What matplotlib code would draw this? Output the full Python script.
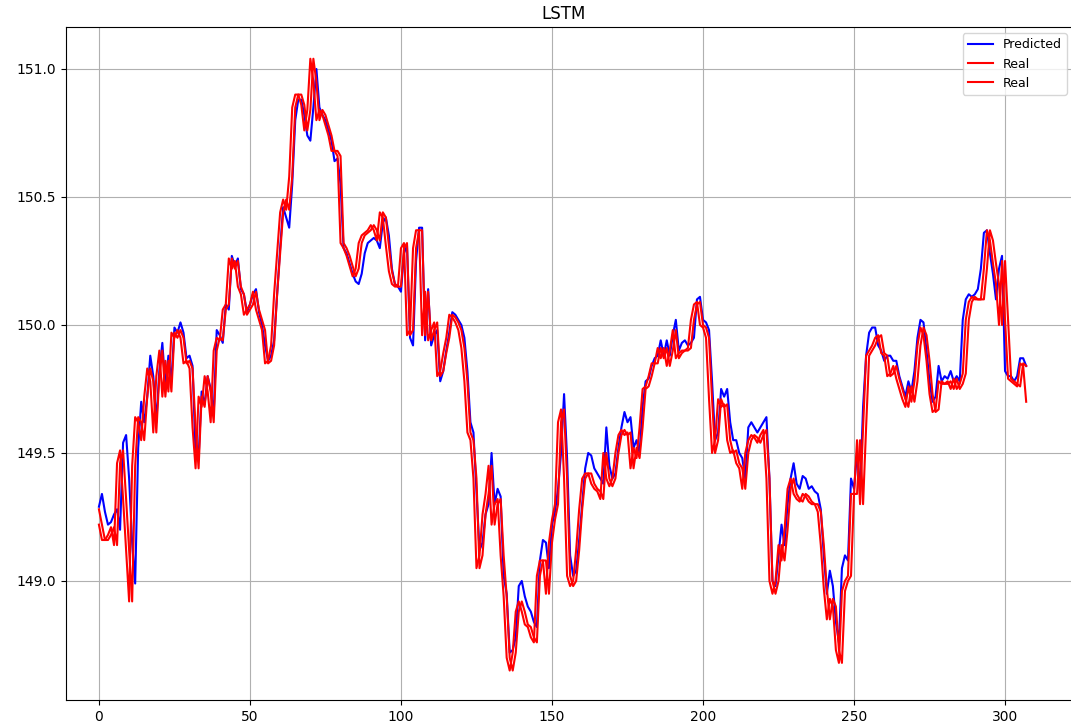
import matplotlib
matplotlib.use("Agg")
import matplotlib.pyplot as plt
import numpy as np

# real series: the two red lines are this series drawn one step apart
real = [
    149.28, 149.22, 149.16, 149.16, 149.18, 149.21, 149.14, 149.46, 149.51, 149.32,
    149.12, 148.92, 149.45, 149.64, 149.62, 149.55, 149.72, 149.83, 149.78, 149.58,
    149.80, 149.90, 149.72, 149.86, 149.74, 149.97, 149.95, 149.98, 149.95, 149.85,
    149.86, 149.83, 149.60, 149.44, 149.72, 149.68, 149.80, 149.74, 149.62, 149.90,
    149.95, 149.94, 150.06, 150.08, 150.26, 150.22, 150.25, 150.15, 150.12, 150.04,
    150.06, 150.08, 150.13, 150.06, 150.02, 149.98, 149.85, 149.86, 149.92, 150.12,
    150.28, 150.44, 150.49, 150.45, 150.58, 150.85, 150.90, 150.90, 150.86, 150.76,
    150.84, 151.04, 150.95, 150.80, 150.84, 150.82, 150.78, 150.74, 150.68, 150.68,
    150.66, 150.32, 150.30, 150.27, 150.23, 150.19, 150.22, 150.32, 150.35, 150.36,
    150.37, 150.39, 150.37, 150.33, 150.44, 150.42, 150.31, 150.21, 150.16, 150.15,
    150.15, 150.30, 150.32, 149.96, 149.98, 150.30, 150.37, 150.37, 149.96, 150.13,
    149.94, 149.98, 150.01, 149.80, 149.82, 149.89, 149.95, 150.04, 150.03, 150.01,
    149.98, 149.91, 149.78, 149.58, 149.55, 149.40, 149.05, 149.10, 149.26, 149.34,
    149.45, 149.22, 149.30, 149.32, 149.10, 148.94, 148.70, 148.65, 148.72, 148.88,
    148.92, 148.88, 148.83, 148.82, 148.78, 148.76, 149.02, 149.08, 149.08, 148.95,
    149.15, 149.24, 149.30, 149.62, 149.67, 149.40, 149.02, 148.98, 149.00, 149.12,
    149.28, 149.40, 149.42, 149.42, 149.38, 149.36, 149.35, 149.32, 149.50, 149.40,
    149.37, 149.40, 149.50, 149.57, 149.59, 149.57, 149.58, 149.44, 149.52, 149.48,
    149.60, 149.75, 149.76, 149.80, 149.85, 149.85, 149.91, 149.87, 149.91, 149.84,
    149.90, 149.98, 149.87, 149.89, 149.90, 149.90, 149.91, 150.02, 150.08, 150.09,
    150.00, 149.99, 149.95, 149.71, 149.50, 149.55, 149.71, 149.68, 149.69, 149.55,
    149.50, 149.51, 149.46, 149.44, 149.36, 149.50, 149.55, 149.57, 149.56, 149.54,
    149.57, 149.59, 149.40, 149.00, 148.95, 149.00, 149.14, 149.08, 149.20, 149.36,
    149.40, 149.34, 149.32, 149.31, 149.34, 149.33, 149.31, 149.30, 149.30, 149.27,
    149.14, 148.97, 148.85, 148.93, 148.90, 148.73, 148.68, 148.96, 149.00, 149.02,
    149.34, 149.34, 149.55, 149.30, 149.60, 149.88, 149.90, 149.92, 149.95, 149.96,
    149.89, 149.88, 149.80, 149.81, 149.84, 149.79, 149.75, 149.71, 149.68, 149.76,
    149.70, 149.78, 149.92, 149.99, 149.96, 149.86, 149.73, 149.66, 149.67, 149.78,
    149.77, 149.77, 149.78, 149.75, 149.79, 149.75, 149.77, 149.81, 150.02, 150.09,
    150.11, 150.10, 150.10, 150.10, 150.22, 150.37, 150.33, 150.24, 150.16, 150.00,
    150.25, 150.02, 149.79, 149.78, 149.77, 149.76, 149.85, 149.84, 149.70,
]

predicted = [
    149.29, 149.34, 149.27, 149.22, 149.23, 149.26, 149.28, 149.20, 149.54, 149.57,
    149.40, 149.15, 148.99, 149.52, 149.70, 149.62, 149.72, 149.88, 149.80, 149.62,
    149.82, 149.93, 149.76, 149.88, 149.78, 149.99, 149.97, 150.01, 149.97, 149.87,
    149.88, 149.84, 149.50, 149.48, 149.74, 149.69, 149.80, 149.75, 149.65, 149.98,
    149.96, 149.93, 150.08, 150.06, 150.27, 150.23, 150.26, 150.14, 150.12, 150.05,
    150.08, 150.12, 150.14, 150.05, 150.00, 149.92, 149.86, 149.88, 149.94, 150.12,
    150.30, 150.46, 150.42, 150.38, 150.55, 150.80, 150.88, 150.88, 150.82, 150.74,
    150.72, 150.85, 151.00, 150.85, 150.82, 150.80, 150.76, 150.72, 150.64, 150.65,
    150.55, 150.30, 150.28, 150.24, 150.20, 150.17, 150.16, 150.20, 150.28, 150.32,
    150.33, 150.34, 150.33, 150.30, 150.40, 150.42, 150.35, 150.22, 150.16, 150.15,
    150.13, 150.28, 150.31, 149.95, 149.92, 150.25, 150.38, 150.38, 149.94, 150.14,
    149.92, 149.96, 149.98, 149.78, 149.82, 149.90, 149.97, 150.05, 150.04, 150.02,
    150.00, 149.95, 149.82, 149.62, 149.58, 149.35, 149.12, 149.15, 149.26, 149.30,
    149.50, 149.30, 149.36, 149.33, 149.02, 148.95, 148.72, 148.73, 148.78, 148.98,
    149.00, 148.94, 148.90, 148.88, 148.84, 148.82, 149.08, 149.16, 149.15, 149.05,
    149.22, 149.27, 149.36, 149.50, 149.73, 149.48, 149.10, 149.02, 149.04, 149.16,
    149.30, 149.44, 149.50, 149.49, 149.44, 149.42, 149.40, 149.38, 149.60, 149.45,
    149.40, 149.42, 149.52, 149.60, 149.66, 149.62, 149.64, 149.52, 149.55, 149.50,
    149.68, 149.78, 149.79, 149.84, 149.87, 149.88, 149.94, 149.88, 149.94, 149.88,
    149.96, 150.02, 149.90, 149.93, 149.94, 149.92, 149.93, 149.95, 150.10, 150.11,
    150.02, 150.01, 149.98, 149.78, 149.55, 149.58, 149.75, 149.72, 149.75, 149.62,
    149.55, 149.55, 149.50, 149.48, 149.40, 149.60, 149.62, 149.60, 149.58, 149.60,
    149.62, 149.64, 149.40, 149.00, 148.98, 149.10, 149.22, 149.14, 149.30, 149.40,
    149.46, 149.38, 149.36, 149.41, 149.40, 149.36, 149.37, 149.35, 149.34, 149.28,
    149.10, 148.95, 149.04, 148.98, 148.84, 148.76, 149.05, 149.10, 149.08, 149.40,
    149.36, 149.50, 149.35, 149.68, 149.88, 149.97, 149.99, 149.99, 149.92, 149.90,
    149.86, 149.88, 149.88, 149.86, 149.86, 149.80, 149.76, 149.72, 149.78, 149.74,
    149.82, 149.95, 150.02, 150.01, 149.90, 149.78, 149.70, 149.72, 149.84, 149.78,
    149.80, 149.79, 149.82, 149.78, 149.80, 149.78, 150.02, 150.10, 150.12, 150.11,
    150.12, 150.14, 150.22, 150.36, 150.37, 150.28, 150.20, 150.10, 150.22, 150.27,
    149.82, 149.80, 149.80, 149.78, 149.80, 149.87, 149.87, 149.84,
]

real_lead = real[1:]
real_lag = real[:-1]

fig = plt.figure(figsize=(10.71, 7.25), dpi=100)
# the right edge of the axes sits just past the picture, as in the reference
ax = fig.add_axes([66 / 1071, 25 / 725, (1073 - 66) / 1071, (700 - 27) / 725])

ax.plot(predicted, color="blue", label="Predicted")
ax.plot(real_lead, color="red", label="Real")
ax.plot(real_lag, color="red", label="Real")

ax.set_title("LSTM", x=(564 - 66) / (1073 - 66))
ax.set_xlim(-10.9, 322.5)
ax.set_ylim(148.535, 151.164)
ax.set_xticks([0, 50, 100, 150, 200, 250, 300])
ax.set_yticks([149.0, 149.5, 150.0, 150.5, 151.0])
ax.grid(True)
ax.legend(loc="upper right", fontsize=9)

fig.savefig("out.png", dpi=100)
